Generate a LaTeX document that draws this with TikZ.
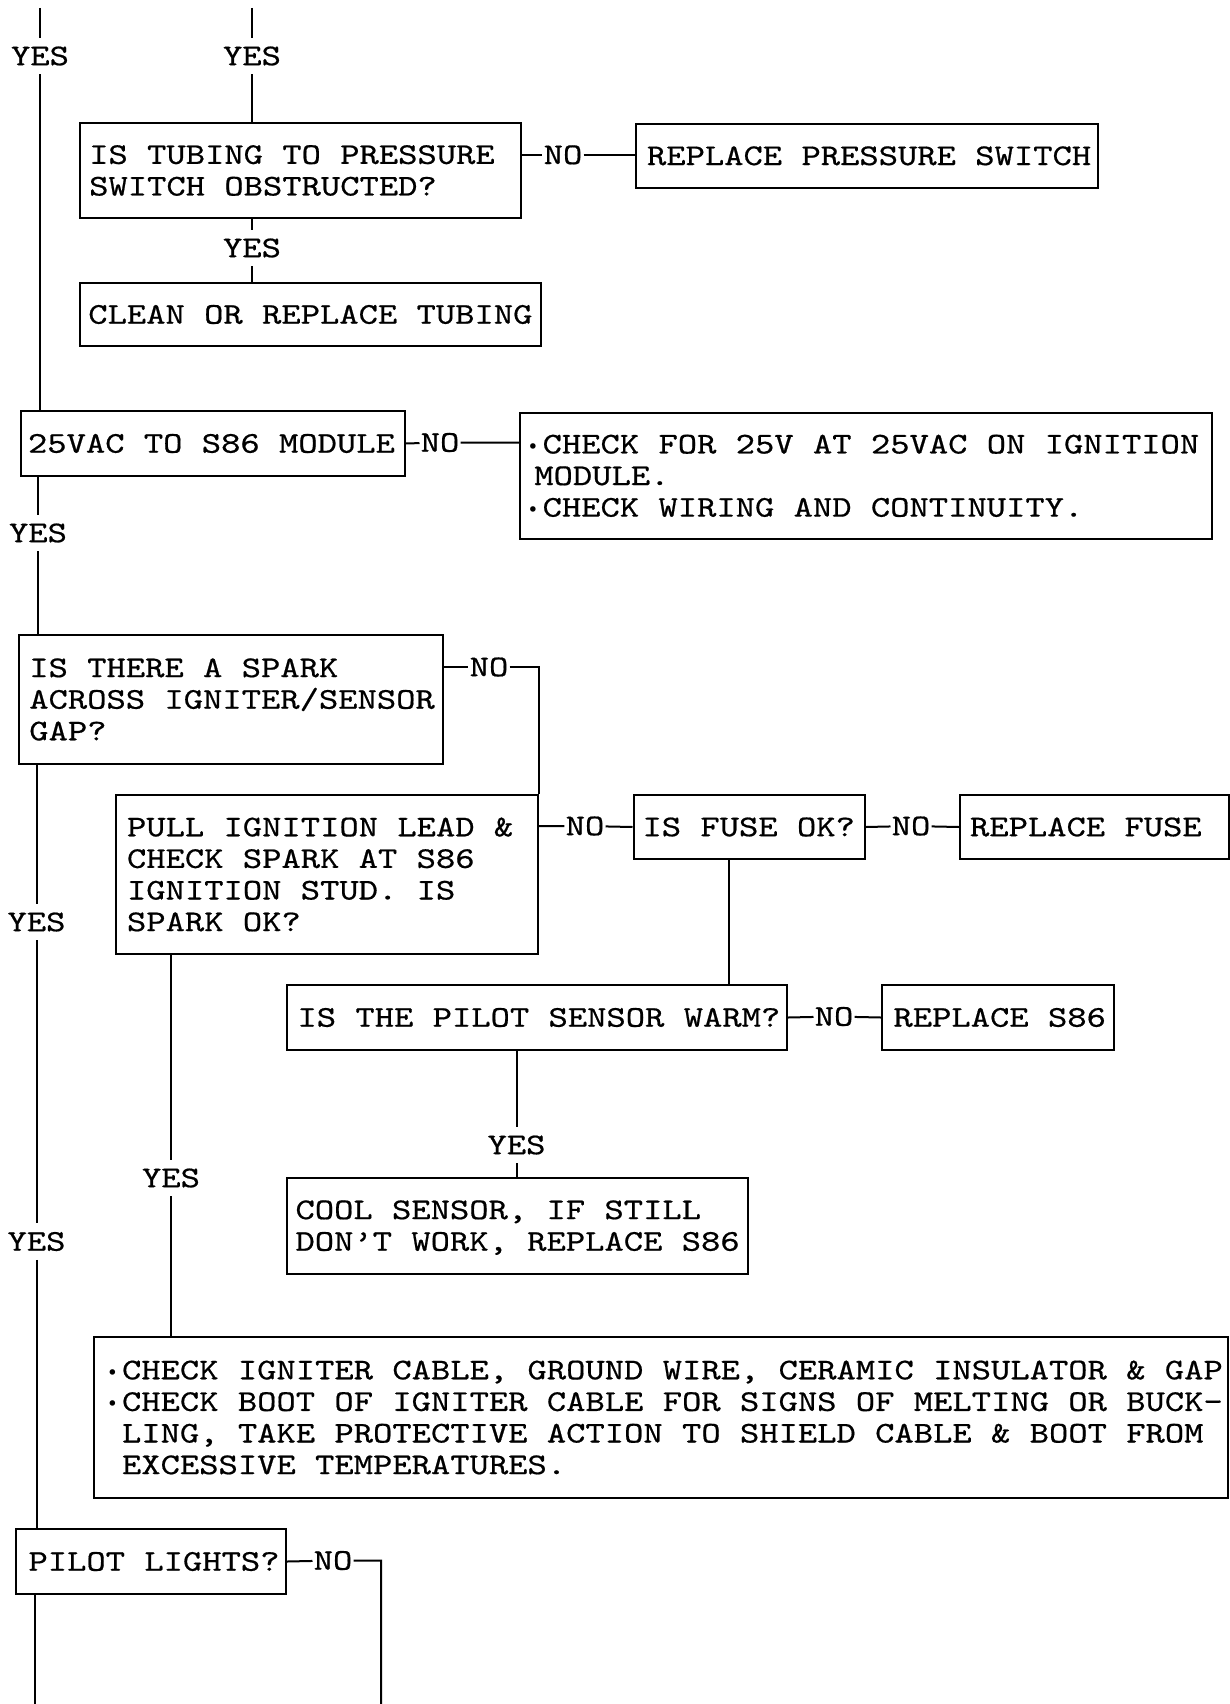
\documentclass[tikz,border=0pt]{standalone}
\usepackage{fontspec}
\newfontfamily\cour{lmmono10-regular.otf}[FakeStretch=1.222,FakeBold=0.6]
\newfontfamily\dv{DejaVu Sans}
\newcommand\bfnt{\cour\fontsize{30.1pt}{31.6pt}\selectfont\lineskiplimit=-100pt\relax}
\newcommand\bul{\makebox[19.32pt]{\raisebox{0pt}{\dv\fontsize{19pt}{19pt}\selectfont •}}}
\begin{document}
\begin{tikzpicture}[x=1pt,y=-1pt,
 bx/.style={draw, line width=2pt, rectangle, anchor=north west, align=left, inner ysep=1pt, text height=18.4pt, font=\bfnt,
   execute at begin node={\spaceskip=19.32pt\xspaceskip=19.32pt\relax}},
 lab/.style={fill=white, inner xsep=1pt, inner ysep=9pt, text height=18.4pt, text depth=0pt, font=\bfnt},
 ln/.style={line width=2pt}]
\useasboundingbox[fill=white] (0,0) rectangle (1229,1704);

% boxes
\node[bx, minimum width=441.5pt, minimum height=95pt, inner xsep=9.7pt, text width=422.1pt, text depth=31.6pt] (tub) at (78.5,122)
  {\mbox{IS TUBING TO PRESSURE}\\\mbox{SWITCH OBSTRUCTED?}};
\node[bx, minimum width=461pt, minimum height=63pt, inner xsep=8.8pt, text width=443.4pt, text depth=0pt] (clean) at (78.5,282)
  {\mbox{CLEAN OR REPLACE TUBING}};
\node[bx, minimum width=462pt, minimum height=64.3pt, inner xsep=11pt, text width=440pt, text depth=0pt] (rps) at (635,122.7)
  {\mbox{REPLACE PRESSURE SWITCH}};
\node[bx, minimum width=384pt, minimum height=65pt, inner xsep=7.4pt, text width=369.2pt, text depth=0pt] (vac) at (19.6,410)
  {\mbox{25VAC TO S86 MODULE}};
\node[bx, minimum width=691.4pt, minimum height=126.3pt, inner xsep=3pt, text width=685.4pt, text depth=63.2pt] (chk) at (519.3,411.7)
  {\mbox{\bul{}CHECK FOR 25V AT 25VAC ON IGNITION}\\\mbox{\hspace{11pt}MODULE.}\\\mbox{\bul{}CHECK WIRING AND CONTINUITY.}};
\node[bx, minimum width=424.2pt, minimum height=129pt, inner xsep=10.5pt, text width=403.2pt, text depth=63.2pt] (spark) at (17.8,634)
  {\mbox{IS THERE A SPARK}\\\mbox{ACROSS IGNITER/SENSOR}\\\mbox{GAP?}};
\node[bx, minimum width=422.3pt, minimum height=159pt, inner xsep=11.3pt, text width=399.7pt, text depth=94.8pt] (pull) at (114.7,794)
  {\mbox{PULL IGNITION LEAD \&}\\\mbox{CHECK SPARK AT S86}\\\mbox{IGNITION STUD. IS}\\\mbox{SPARK OK?}};
\node[bx, minimum width=231.5pt, minimum height=64pt, inner xsep=9pt, text width=213.5pt, text depth=0pt] (fuse) at (632.5,794)
  {\mbox{IS FUSE OK?}};
\node[bx, minimum width=268.5pt, minimum height=64pt, inner xsep=10pt, text width=248.5pt, text depth=0pt] (rfuse) at (959,794)
  {\mbox{REPLACE FUSE}};
\node[bx, minimum width=500pt, minimum height=65pt, inner xsep=10.5pt, text width=479pt, text depth=0pt] (ps) at (286,984)
  {\mbox{IS THE PILOT SENSOR WARM?}};
\node[bx, minimum width=231.7pt, minimum height=65pt, inner xsep=11.5pt, text width=208.7pt, text depth=0pt] (rs86) at (881,984)
  {\mbox{REPLACE S86}};
\node[bx, minimum width=461pt, minimum height=96pt, inner xsep=8.5pt, text width=444pt, text depth=31.6pt] (cool) at (286,1176.7)
  {\mbox{COOL SENSOR, IF STILL}\\\mbox{DON’T WORK, REPLACE S86}};
\node[bx, minimum width=1133.8pt, minimum height=161pt, inner xsep=9pt, text width=1115.8pt, text depth=94.8pt] (big) at (92.7,1336)
  {\mbox{\bul{}CHECK IGNITER CABLE, GROUND WIRE, CERAMIC INSULATOR \& GAP}\\
   \mbox{\bul{}CHECK BOOT OF IGNITER CABLE FOR SIGNS OF MELTING OR BUCK-}\\
   \mbox{\hspace{19.32pt}LING, TAKE PROTECTIVE ACTION TO SHIELD CABLE \& BOOT FROM}\\
   \mbox{\hspace{19.32pt}EXCESSIVE TEMPERATURES.}};
\node[bx, minimum width=270pt, minimum height=65pt, inner xsep=12.5pt, text width=245pt, text depth=0pt] (pl) at (15,1528)
  {\mbox{PILOT LIGHTS?}};

% YES labels
\node[lab] (y1) at (40,56) {YES};
\node[lab] (y2) at (252,56) {YES};
\node[lab] (y3) at (252,248) {YES};
\node[lab] (y4) at (38,533) {YES};
\node[lab] (y5) at (36.5,922) {YES};
\node[lab] (y6) at (36.5,1241.5) {YES};
\node[lab] (y7) at (171,1178) {YES};
\node[lab] (y8) at (516.5,1145) {YES};

% NO labels
\node[lab] (no1) at (563,154.85) {NO};
\node[lab] (no2) at (440,442.5) {NO};
\node[lab] (no3) at (489,667) {NO};
\node[lab] (no4) at (585,826) {NO};
\node[lab] (no5) at (911,826) {NO};
\node[lab] (no6) at (834,1016.5) {NO};
\node[lab] (no7) at (333,1560.5) {NO};

% free ends
\coordinate (t1) at (40,8);
\coordinate (t2) at (252,8);
\coordinate (b1) at (34.5,1704);
\coordinate (fx) at (728.7,900);
\coordinate (r7) at (381,1560.5);
\coordinate (r7b) at (381,1704);

% main left line
\draw[ln] (t1) -- (y1) -- (y1 |- vac.north);
\draw[ln] (y4 |- vac.south) -- (y4) -- (y4 |- spark.north);
\draw[ln] (y5 |- spark.south) -- (y5) -- (y6) -- (y6 |- pl.north);
\draw[ln] (b1 |- pl.south) -- (b1);

% second top line
\draw[ln] (t2) -- (y2) -- (y2 |- tub.north);
\draw[ln] (y3 |- tub.south) -- (y3) -- (y3 |- clean.north);
\draw[ln] (tub.east |- no1) -- (no1) -- (rps.west |- no1);

% 25VAC
\draw[ln] (vac.east) -- (no2) -- (chk.west |- no2);

% spark
\draw[ln] (spark.east |- no3) -- (no3) -- (no3 -| pull.east) -- (pull.north east);
\draw[ln] (pull.east |- no4) -- (no4) -- (fuse.west);
\draw[ln] (fuse.east) -- (no5) -- (rfuse.west);
\draw[ln] (fx |- fuse.south) -- (fx |- ps.north);
\draw[ln] (ps.east) -- (no6) -- (rs86.west);
\draw[ln] (y8 |- ps.south) -- (y8) -- (y8 |- cool.north);
\draw[ln] (y7 |- pull.south) -- (y7) -- (y7 |- big.north);

% pilot lights
\draw[ln] (pl.east) -- (no7) -- (r7) -- (r7b);
\end{tikzpicture}
\end{document}
